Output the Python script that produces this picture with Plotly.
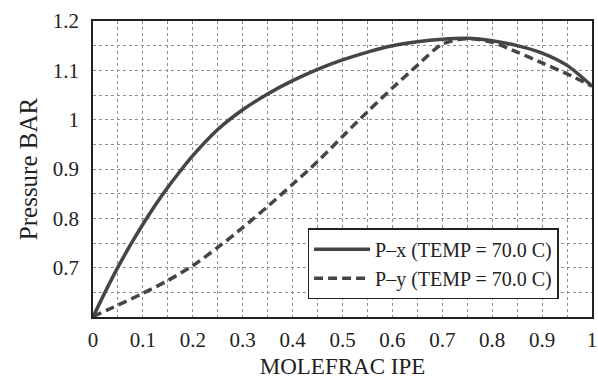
import plotly.graph_objects as go

x_liq = [0.0, 0.025, 0.05, 0.075, 0.1, 0.125, 0.15, 0.175, 0.2, 0.25, 0.3, 0.35, 0.4, 0.45, 0.5, 0.55, 0.6, 0.65, 0.7, 0.75, 0.8, 0.85, 0.9, 0.95, 1.0]
p_x = [0.600, 0.652, 0.701, 0.746, 0.788, 0.827, 0.863, 0.896, 0.927, 0.980, 1.020, 1.052, 1.079, 1.102, 1.121, 1.137, 1.150, 1.158, 1.163, 1.165, 1.160, 1.150, 1.135, 1.110, 1.068]

y_vap = [0.0, 0.05, 0.1, 0.15, 0.2, 0.25, 0.3, 0.35, 0.4, 0.45, 0.5, 0.55, 0.6, 0.65, 0.7, 0.75, 0.8, 0.85, 0.9, 0.95, 1.0]
p_y = [0.601, 0.624, 0.648, 0.674, 0.704, 0.741, 0.781, 0.824, 0.869, 0.915, 0.966, 1.016, 1.064, 1.110, 1.153, 1.164, 1.157, 1.137, 1.115, 1.093, 1.068]

x_ticks = [0, 0.1, 0.2, 0.3, 0.4, 0.5, 0.6, 0.7, 0.8, 0.9, 1.0]
x_ticktext = ["0", "0.1", "0.2", "0.3", "0.4", "0.5", "0.6", "0.7", "0.8", "0.9", "1"]
y_ticks = [0.7, 0.8, 0.9, 1.0, 1.1, 1.2]
y_ticktext = ["0.7", "0.8", "0.9", "1", "1.1", "1.2"]

FONT = "Liberation Serif"
LINE = "#454545"
GRID = "#8f8f8f"

fig = go.Figure()
fig.add_trace(go.Scatter(x=x_liq, y=p_x, mode="lines", name="P\u2013x (TEMP = 70.0 C)",
                         line=dict(color=LINE, width=3.5, shape="spline", smoothing=0.8)))
fig.add_trace(go.Scatter(x=y_vap, y=p_y, mode="lines", name="P\u2013y (TEMP = 70.0 C)",
                         line=dict(color=LINE, width=3.5, dash="9px,5px", shape="spline", smoothing=0.8)))

axis_common = dict(
    showgrid=True, gridcolor=GRID, griddash="dot", gridwidth=1,
    showline=True, linecolor="#222", linewidth=1.5, mirror=True,
    zeroline=False, ticks="", ticklabeloverflow="allow",
    tickfont=dict(family=FONT, size=21, color="#222"),
)

fig.update_xaxes(range=[0, 1], tickvals=x_ticks, ticktext=x_ticktext, ticklabelstandoff=3,
                 minor=dict(dtick=0.05, tick0=0, showgrid=True, gridcolor=GRID, griddash="dot", gridwidth=1),
                 title=dict(text="MOLEFRAC IPE", font=dict(family=FONT, size=23, color="#222"), standoff=10),
                 **axis_common)
fig.update_yaxes(range=[0.6, 1.2], tickvals=y_ticks, ticktext=y_ticktext, ticklabelstandoff=8,
                 minor=dict(dtick=0.05, tick0=0.6, showgrid=True, gridcolor=GRID, griddash="dot", gridwidth=1),
                 title=dict(text="Pressure BAR", font=dict(family=FONT, size=25, color="#222"), standoff=8),
                 **axis_common)

fig.update_layout(
    width=598, height=379,
    margin=dict(l=93, r=1, t=21, b=58),
    paper_bgcolor="white", plot_bgcolor="white",
    legend=dict(x=0.43, y=0.30, xanchor="left", yanchor="top",
                bgcolor="white", bordercolor="#222", borderwidth=1.5,
                font=dict(family=FONT, size=20, color="#222"),
                tracegroupgap=0, itemwidth=56),
    showlegend=True,
)

fig.write_html("out.html")
